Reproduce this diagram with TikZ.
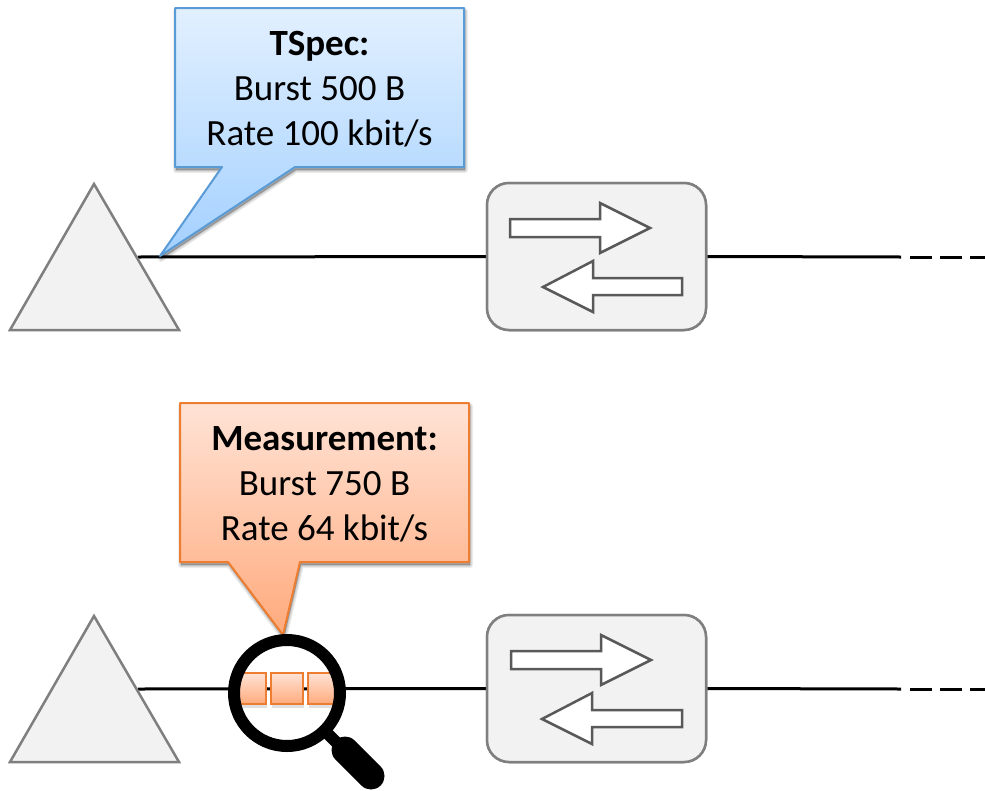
\documentclass[tikz,border=0pt]{standalone}
\usepackage{fontspec}
\setmainfont{Carlito}
\usetikzlibrary{calc}
\definecolor{boxgray}{HTML}{7F7F7F}
\definecolor{boxfill}{HTML}{F2F2F2}
\definecolor{arrowgray}{HTML}{595959}
\definecolor{bluebd}{HTML}{5B9BD5}
\definecolor{bluetop}{HTML}{E2F0FF}
\definecolor{bluebot}{HTML}{A3D0FF}
\definecolor{orangebd}{HTML}{ED7D31}
\definecolor{orangetop}{HTML}{FFE3D6}
\definecolor{orangebot}{HTML}{FFAA7C}
\tikzset{
  x=1pt,y=-1pt,
  wire/.style={draw=black,line width=3pt},
  wiredash/.style={wire,dash pattern=on 22pt off 8pt},
  hosttri/.style={draw=boxgray,fill=boxfill,line width=2.5pt,line join=miter},
  switchbox/.style={draw=boxgray,fill=boxfill,line width=2.5pt,rounded corners=22pt,
    minimum width=219pt,minimum height=147pt,inner sep=0pt},
  flowarrow/.style={draw=arrowgray,fill=white,line width=2.5pt,line join=miter},
  bluecall/.style={draw=bluebd,line width=2pt,top color=bluetop,bottom color=bluebot,line join=round},
  orangecall/.style={draw=orangebd,line width=2pt,top color=orangetop,bottom color=orangebot,line join=round},
  calltext/.style={align=center,inner sep=0pt,font=\fontsize{37}{45}\selectfont},
  softshadow/.style={draw=black,fill=black,line width=#1,opacity=.07,line join=round},
}
\newcommand{\softshape}[1]{%
  \foreach \w in {6pt,4pt,2pt,0.5pt}{\path[softshadow=\w,shift={(1pt,-3pt)}] #1;}}
\begin{document}
\begin{tikzpicture}
\useasboundingbox (0,0) rectangle (985,790);
\fill[white] (0,0) rectangle (985,790);

% ---------- upper row ----------
\coordinate (wireA) at (138,257);
\coordinate (wireB) at (901,257);
\coordinate (dashA) at (910,257);
\coordinate (dashB) at (985,257);
\node[switchbox] (sw1) at (596.5,256.5) {};
\draw[wire] (wireA) -- (sw1.west);
\draw[wire] (sw1.east) -- (wireB);
\draw[wiredash] (dashA) -- (dashB);
\node[switchbox] at (596.5,256.5) {};
\draw[hosttri] (94,184) coordinate (h1) -- (179,330) -- (10,330) -- cycle;
\draw[flowarrow] (510,219) -- (600,219) -- (600,203) -- (650,228) -- (600,253) -- (600,237) -- (510,237) -- cycle;
\draw[flowarrow] (682,278) -- (593,278) -- (593,261) -- (543,287) -- (593,312) -- (593,295) -- (682,295) -- cycle;

\softshape{(175,8) -- (464,8) -- (464,167) -- (295,167) -- (160,256) -- (222,167) -- (175,167) -- cycle}
\draw[bluecall] (175,8) -- (464,8) -- (464,167) -- (295,167) -- (160,256) -- (222,167) -- (175,167) -- cycle;
\node[calltext] (tspec) at (319.5,89) {\textbf{TSpec:}\\Burst 500 B\\Rate 100 kbit/s};

% ---------- lower row ----------
\coordinate (wireC) at (138,689);
\coordinate (wireD) at (901,689);
\coordinate (dashC) at (910,689);
\coordinate (dashD) at (985,689);
\node[switchbox] (sw2) at (596.5,688.5) {};
\draw[wire] (wireC) -- (sw2.west);
\draw[wire] (sw2.east) -- (wireD);
\draw[wiredash] (dashC) -- (dashD);
\node[switchbox] at (596.5,688.5) {};
\draw[hosttri] (94,616) coordinate (h2) -- (179,762) -- (10,762) -- cycle;
\draw[flowarrow] (511,651) -- (601,651) -- (601,635) -- (651,660) -- (601,685) -- (601,669) -- (511,669) -- cycle;
\draw[flowarrow] (682,710) -- (592,710) -- (592,693) -- (542,719) -- (592,744) -- (592,727) -- (682,727) -- cycle;

\softshape{(180,403) -- (469,403) -- (469,562) -- (300,562) -- (283,635) -- (228,562) -- (180,562) -- cycle}
\draw[orangecall] (180,403) -- (469,403) -- (469,562) -- (300,562) -- (283,635) -- (228,562) -- (180,562) -- cycle;
\node[calltext] (meas) at (324.5,484) {\textbf{Measurement:}\\Burst 750 B\\Rate 64 kbit/s};

% packets seen through the lens
\begin{scope}
\clip (287,693) circle[radius=50];
\foreach \a in {234,271,308}{
  \fill[black,opacity=.12] (\a+1,676) rectangle (\a+33,708);
  \draw[draw=orangebd,line width=2pt,top color=orangetop,bottom color=orangebot] (\a,673) rectangle (\a+32,704);
}
\end{scope}

% magnifier
\draw[black,line width=12pt] (287,693) circle[radius=53];
\draw[black,line width=12pt] (326,732) -- (345,751);
\draw[black,line width=27pt,line cap=round] (345,750) -- (371,776);
\end{tikzpicture}
\end{document}
